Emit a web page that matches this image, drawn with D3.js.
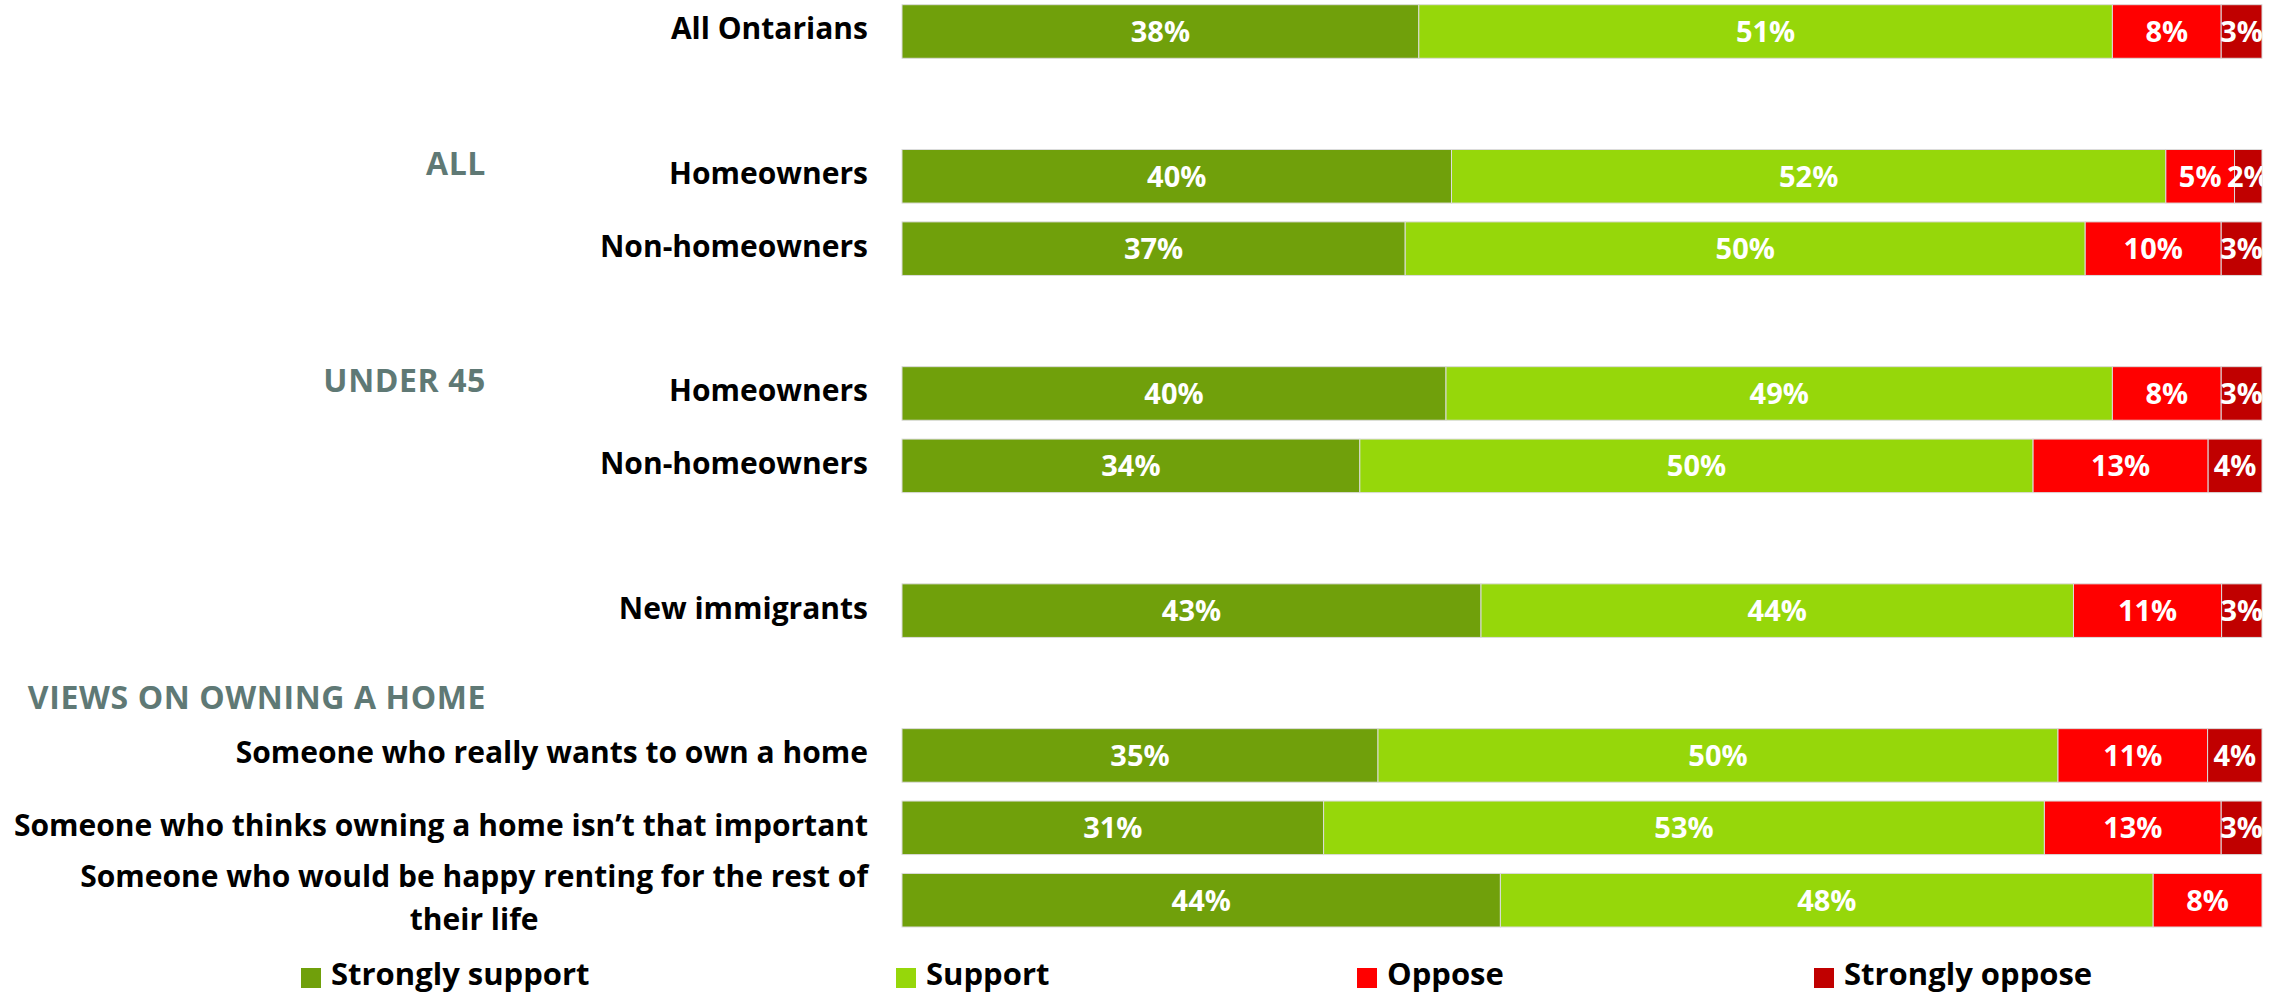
<!DOCTYPE html>
<html>
<head>
<meta charset="utf-8">
<script src="https://cdn.jsdelivr.net/npm/d3@7"></script>
<style>
  html, body { margin: 0; padding: 0; background: #fff; }
  svg { display: block; }
  text { font-family: "Open Sans", Lato, sans-serif; font-weight: 700; }
</style>
</head>
<body>
<svg id="chart" width="2284" height="994"></svg>
<script>
// Support / opposition shares by group (percent)
const seriesNames = ["Strongly support", "Support", "Oppose", "Strongly oppose"];
const groupNames = ["", "ALL", "UNDER 45", "", "VIEWS ON OWNING A HOME"];
const rowLabels = [
  "All Ontarians",
  "Homeowners",
  "Non-homeowners",
  "Homeowners",
  "Non-homeowners",
  "New immigrants",
  "Someone who really wants to own a home",
  "Someone who thinks owning a home isn\u2019t that important",
  "Someone who would be happy renting for the rest of\ntheir life"
];
const rowGroup = [0, 1, 1, 2, 2, 3, 4, 4, 4];
const stronglySupport = [38, 40, 37, 40, 34, 43, 35, 31, 44];
const support         = [51, 52, 50, 49, 50, 44, 50, 53, 48];
const oppose          = [8, 5, 10, 8, 13, 11, 11, 13, 8];
const stronglyOppose  = [3, 2, 3, 3, 4, 3, 4, 3, 0];

const colors = ["#70a00b", "#96d70a", "#ff0000", "#c00000"];
const headerColor = "#5f7975";

const svg = d3.select("#chart");

// one table row per category, keyed by position
const rows = rowLabels.map((label, i) => ({
  key: "r" + i,
  label,
  group: rowGroup[i],
  "Strongly support": stronglySupport[i],
  "Support": support[i],
  "Oppose": oppose[i],
  "Strongly oppose": stronglyOppose[i]
}));

// band domain: rows of each group, with an empty slot between groups
const slots = [];
groupNames.forEach((g, gi) => {
  if (gi > 0) slots.push("gap" + gi);
  rows.filter(r => r.group === gi).forEach(r => slots.push(r.key));
});

const x = d3.scaleLinear().domain([0, 1]).range([902, 2262]);
const y = d3.scaleBand().domain(slots).range([4.7, 927]).paddingInner(0.26).paddingOuter(0);
const color = d3.scaleOrdinal().domain(seriesNames).range(colors);

const stack = d3.stack().keys(seriesNames).offset(d3.stackOffsetExpand);
const layers = stack(rows);

svg.append("clipPath").attr("id", "plotClip")
  .append("rect")
  .attr("x", x(0)).attr("y", 0)
  .attr("width", x(1) - x(0)).attr("height", 994);

// bars
const layerG = svg.append("g").selectAll("g")
  .data(layers).join("g")
  .attr("fill", d => color(d.key));

layerG.selectAll("rect")
  .data(d => d.filter(s => s[1] - s[0] > 0))
  .join("rect")
  .attr("x", d => x(d[0]))
  .attr("y", d => y(d.data.key))
  .attr("width", d => x(d[1]) - x(d[0]))
  .attr("height", y.bandwidth())
  .attr("stroke", "#dcdcdc")
  .attr("stroke-width", 1);

// value labels centred in each segment
const labelG = svg.append("g").attr("clip-path", "url(#plotClip)");
layers.forEach(layer => {
  labelG.selectAll(null)
    .data(layer.filter(s => s.data[layer.key] > 0))
    .join("text")
    .attr("x", d => (x(d[0]) + x(d[1])) / 2)
    .attr("y", d => y(d.data.key) + y.bandwidth() / 2 + 10.5)
    .attr("text-anchor", "middle")
    .attr("fill", "#fff")
    .attr("font-size", 29)
    .text(d => d.data[layer.key] + "%");
});

// category labels
const labelRight = 868;
const labelSize = 30;
rows.forEach(r => {
  const lines = r.label.split("\n");
  const cy = y(r.key) + y.bandwidth() / 2;
  const t = svg.append("text")
    .attr("font-size", labelSize)
    .attr("fill", "#000");
  if (lines.length === 1) {
    t.attr("x", labelRight).attr("y", cy + 8).attr("text-anchor", "end").text(lines[0]);
  } else {
    // multi-line labels are centred on their widest line, right edge aligned
    const probe = svg.append("text").attr("font-size", labelSize).text(lines[0]);
    const w = probe.node().getComputedTextLength();
    probe.remove();
    const cx = labelRight - w / 2;
    const lh = 43;
    const top = cy + 8 - lh * (lines.length - 1) / 2;
    t.attr("text-anchor", "middle");
    lines.forEach((ln, k) => {
      t.append("tspan").attr("x", cx).attr("y", top + k * lh).text(ln);
    });
  }
});

// group headers
groupNames.forEach((g, gi) => {
  if (!g) return;
  const first = rows.find(r => r.group === gi);
  const long = g.length > 12;
  const yy = long ? y(first.key) - 20 : y(first.key) + y.bandwidth() / 2 - 1;
  svg.append("text")
    .attr("x", 486)
    .attr("y", yy)
    .attr("text-anchor", "end")
    .attr("font-size", 32)
    .attr("letter-spacing", 0.6)
    .attr("fill", headerColor)
    .text(g);
});

// legend
const legendX = [301, 896, 1357, 1814];
const legend = svg.append("g").selectAll("g")
  .data(seriesNames).join("g")
  .attr("transform", (d, i) => `translate(${legendX[i]},968)`);
legend.append("rect")
  .attr("width", 20).attr("height", 20)
  .attr("fill", d => color(d));
legend.append("text")
  .attr("x", 30).attr("y", 17)
  .attr("font-size", 31)
  .attr("fill", "#000")
  .text(d => d);
</script>
</body>
</html>
